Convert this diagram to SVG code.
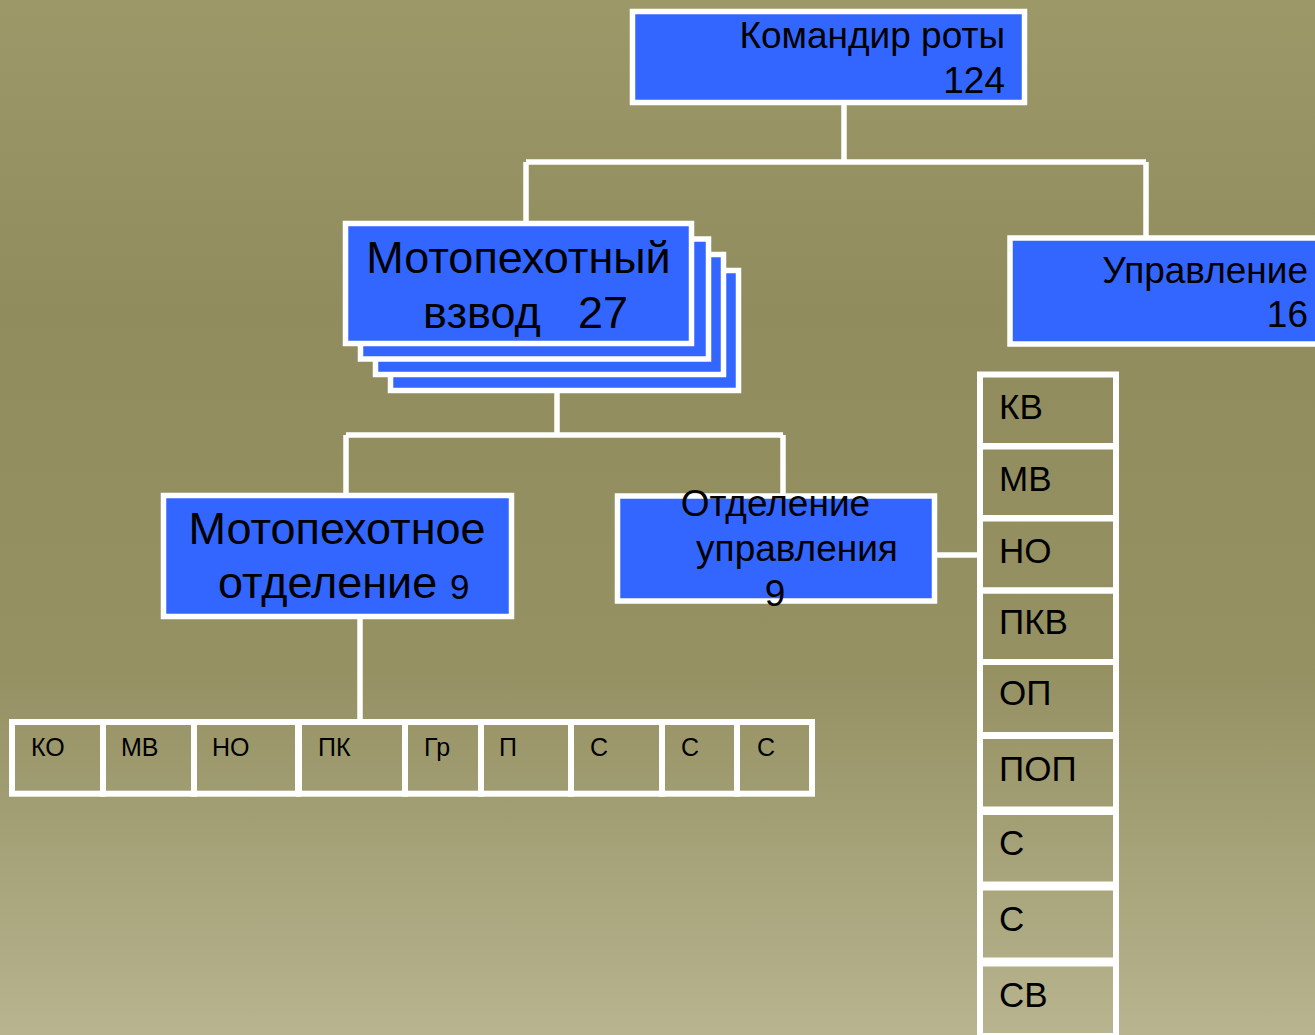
<svg xmlns="http://www.w3.org/2000/svg" width="1315" height="1035" viewBox="0 0 1315 1035">
  <defs>
    <linearGradient id="bg" x1="0" y1="0" x2="0" y2="1">
      <stop offset="0" stop-color="#9d9868"/>
      <stop offset="0.3" stop-color="#918c5e"/>
      <stop offset="0.65" stop-color="#959163"/>
      <stop offset="1" stop-color="#b7b48f"/>
    </linearGradient>
  </defs>
  <style>
    .box { fill: #3366ff; stroke: #ffffff; stroke-width: 5.5; }
    .cell { fill: none; stroke: #ffffff; stroke-width: 6; }
    .conn { stroke: #ffffff; stroke-width: 5.5; fill: none; }
    text { font-family: "Liberation Sans", Arial, sans-serif; fill: #000000; }
    .t37 { font-size: 37px; }
    .t45 { font-size: 45px; }
    .t35 { font-size: 35px; }
    .t25 { font-size: 25px; }
  </style>
  <rect x="0" y="0" width="1315" height="1035" fill="url(#bg)"/>

  <g id="connectors">
    <path class="conn" d="M844 104 V162 M526 162 H1146 M526 162 V222 M1146 162 V238"/>
    <path class="conn" d="M557 393 V435 M346 435 H783 M346 435 V494 M783 435 V494"/>
    <path class="conn" d="M360 619 V721"/>
    <path class="conn" d="M937 555 H980"/>
  </g>

  <g id="commander">
    <rect class="box" x="632.5" y="11.5" width="392" height="91"/>
    <text class="t37" x="1005" y="48" text-anchor="end">Командир роты</text>
    <text class="t37" x="1005" y="93" text-anchor="end">124</text>
  </g>

  <g id="platoon">
    <rect class="box" x="390.5" y="270.5" width="348" height="120"/>
    <rect class="box" x="375.5" y="254.5" width="348" height="120"/>
    <rect class="box" x="360.5" y="239" width="348" height="120"/>
    <rect class="box" x="345.5" y="223.5" width="346" height="120"/>
    <text class="t45" x="518.5" y="273" text-anchor="middle">Мотопехотный</text>
    <text class="t45" x="423" y="328">взвод</text>
    <text class="t45" x="578" y="328">27</text>
  </g>

  <g id="management">
    <rect class="box" x="1010" y="238" width="320" height="106"/>
    <text class="t37" x="1308" y="283" text-anchor="end">Управление</text>
    <text class="t37" x="1308" y="327" text-anchor="end">16</text>
  </g>

  <g id="squad">
    <rect class="box" x="163.5" y="495.5" width="348" height="121"/>
    <text class="t45" x="337" y="544" text-anchor="middle">Мотопехотное</text>
    <text class="t45" x="218" y="598">отделение</text>
    <text class="t35" x="450" y="599">9</text>
  </g>

  <g id="control-squad">
    <rect class="box" x="617.5" y="496" width="317" height="105"/>
    <text class="t37" x="775.5" y="516" text-anchor="middle">Отделение</text>
    <text class="t37" x="797" y="561" text-anchor="middle">управления</text>
    <text class="t37" x="775" y="606" text-anchor="middle">9</text>
  </g>

  <g id="squad-members">
    <rect class="cell" x="12" y="722" width="91" height="71.7"/>
    <rect class="cell" x="103" y="722" width="91" height="71.7"/>
    <rect class="cell" x="194" y="722" width="104" height="71.7"/>
    <rect class="cell" x="299" y="722" width="106" height="71.7"/>
    <rect class="cell" x="405" y="722" width="76" height="71.7"/>
    <rect class="cell" x="481" y="722" width="90" height="71.7"/>
    <rect class="cell" x="571" y="722" width="91" height="71.7"/>
    <rect class="cell" x="662" y="722" width="75" height="71.7"/>
    <rect class="cell" x="737" y="722" width="75" height="71.7"/>
    <text class="t25" x="31" y="756">КО</text>
    <text class="t25" x="121" y="756">МВ</text>
    <text class="t25" x="212" y="756">НО</text>
    <text class="t25" x="318" y="756">ПК</text>
    <text class="t25" x="424" y="756">Гр</text>
    <text class="t25" x="499" y="756">П</text>
    <text class="t25" x="590" y="756">С</text>
    <text class="t25" x="681" y="756">С</text>
    <text class="t25" x="757" y="756">С</text>
  </g>

  <g id="control-members">
    <rect class="cell" x="980" y="374.5" width="136" height="71.5"/>
    <rect class="cell" x="980" y="446.5" width="136" height="71.5"/>
    <rect class="cell" x="980" y="518.5" width="136" height="72"/>
    <rect class="cell" x="980" y="590.5" width="136" height="71.5"/>
    <rect class="cell" x="980" y="662" width="136" height="73"/>
    <rect class="cell" x="980" y="736" width="136" height="73.5"/>
    <rect class="cell" x="980" y="812" width="136" height="72.5"/>
    <rect class="cell" x="980" y="887.5" width="136" height="73"/>
    <rect class="cell" x="980" y="963.5" width="136" height="72.5"/>
    <text class="t35" x="999" y="419">КВ</text>
    <text class="t35" x="999" y="491">МВ</text>
    <text class="t35" x="999" y="563">НО</text>
    <text class="t35" x="999" y="634">ПКВ</text>
    <text class="t35" x="999" y="705">ОП</text>
    <text class="t35" x="999" y="781">ПОП</text>
    <text class="t35" x="999" y="855">С</text>
    <text class="t35" x="999" y="931">С</text>
    <text class="t35" x="999" y="1007">СВ</text>
  </g>
</svg>
